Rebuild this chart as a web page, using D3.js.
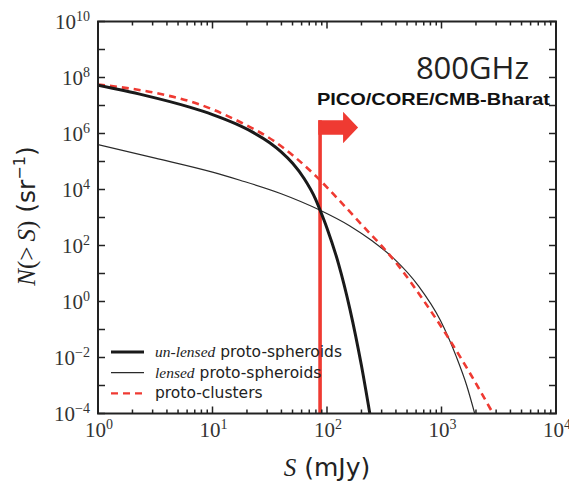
<!DOCTYPE html>
<html><head><meta charset="utf-8">
<script src="https://cdn.jsdelivr.net/npm/d3@7"></script>
<style>body{margin:0;background:#fff}svg{display:block}</style>
</head><body>
<svg id="chart" width="569" height="486"></svg>
<script>
// ---- data (S in mJy, N(>S) in sr^-1) ----
const unlensedS = [1, 2.51, 6.31, 10, 15.85, 22.4, 31.6, 39.8, 50.1, 63.1, 79.4, 87.1, 100, 125.9, 158.5, 199.5, 239.9];
const unlensedN = [5.25e7, 2.34e7, 8.71e6, 4.73e6, 2.24e6, 1.12e6, 4.68e5, 2.21e5, 8.61e4, 2.48e4, 4.57e3, 1.82e3, 417, 22.6, 0.537, 5.37e-3, 7.1e-5];
const lensedS = [1, 3.16, 10, 17.4, 39.8, 87.1, 158.5, 251, 380, 631, 977, 1349, 1660, 1950];
const lensedN = [3.98e5, 1.32e5, 4.17e4, 2.14e4, 7.08e3, 1.82e3, 501, 141, 35.5, 3.55, 0.214, 0.0105, 1e-3, 1e-4];
const clustersS = [1, 3.16, 7.08, 17.4, 33.9, 81.3, 128.8, 237, 288, 437, 708, 1109, 1778, 2818];
const clustersN = [5.62e7, 2.82e7, 1.23e7, 2.57e6, 5.62e5, 2.82e4, 3.98e3, 269, 117, 15.5, 1.0, 0.063, 2.69e-3, 1e-4];
const xTickValues = [1, 10, 100, 1000, 10000];
const xTickExponents = ["0", "1", "2", "3", "4"];
const yTickValues = [1e10, 1e8, 1e6, 1e4, 1e2, 1, 1e-2, 1e-4];
const yTickExponents = ["10", "8", "6", "4", "2", "0", "\u22122", "\u22124"];
const detectionLimit = 87;      // mJy
const flagTopN = 3e6;
const freqLabel = "800GHz";
const experimentLabel = "PICO/CORE/CMB-Bharat";
const legendItems = [
  {it: "un-lensed", rest: " proto-spheroids", key: "unlensed"},
  {it: "lensed", rest: " proto-spheroids", key: "lensed"},
  {it: "", rest: "proto-clusters", key: "clusters"}
];

const RED = "#ef3a32", INK = "#1a1a1a";
const svg = d3.select("#chart");
const L = 98, R = 556, T = 21.5, B = 413.5;
const x = d3.scaleLog().domain([1, 1e4]).range([L, R]);
const y = d3.scaleLog().domain([1e-4, 1e10]).range([B, T]);

const serif = "'Liberation Serif', 'DejaVu Serif', serif";
const sans = "'DejaVu Sans', sans-serif";

const clipId = "plotclip";
svg.append("clipPath").attr("id", clipId).append("rect")
  .attr("x", L).attr("y", T).attr("width", R - L).attr("height", B - T);

const line = d3.line().x(d => x(d[0])).y(d => y(d[1])).curve(d3.curveMonotoneX);
const zip = (a, b) => a.map((v, i) => [v, b[i]]);
const g = svg.append("g").attr("clip-path", `url(#${clipId})`);

// detection limit flag
const fx = x(detectionLimit), fy = y(flagTopN);
g.append("line").attr("x1", fx).attr("x2", fx).attr("y1", fy).attr("y2", B)
  .attr("stroke", RED).attr("stroke-width", 3.6);
svg.append("path")
  .attr("d", `M${fx - 1.8},${fy} L${fx + 23},${fy} L${fx + 23},${fy - 8.5} L${fx + 38},${fy + 7.3} L${fx + 23},${fy + 23} L${fx + 23},${fy + 14.6} L${fx - 1.8},${fy + 14.6} Z`)
  .attr("fill", RED);

g.append("path").datum(zip(lensedS, lensedN)).attr("d", line)
  .attr("fill", "none").attr("stroke", "#2a2a2a").attr("stroke-width", 1.2);
g.append("path").datum(zip(clustersS, clustersN)).attr("d", line)
  .attr("fill", "none").attr("stroke", RED).attr("stroke-width", 2.6).attr("stroke-dasharray", "7,5");
g.append("path").datum(zip(unlensedS, unlensedN)).attr("d", line)
  .attr("fill", "none").attr("stroke", INK).attr("stroke-width", 3);

// frame
svg.append("rect").attr("x", L).attr("y", T).attr("width", R - L).attr("height", B - T)
  .attr("fill", "none").attr("stroke", "#222").attr("stroke-width", 2);

// x ticks (major + minor), bottom and top, inward
const xMinor = [];
for (let d = 0; d < 4; d++) for (let k = 2; k <= 9; k++) xMinor.push(k * Math.pow(10, d));
const tk = svg.append("g").attr("stroke", "#222").attr("stroke-width", 1.5);
xTickValues.forEach(v => {
  tk.append("line").attr("x1", x(v)).attr("x2", x(v)).attr("y1", B).attr("y2", B - 7);
  tk.append("line").attr("x1", x(v)).attr("x2", x(v)).attr("y1", T).attr("y2", T + 7);
});
xMinor.forEach(v => {
  tk.append("line").attr("x1", x(v)).attr("x2", x(v)).attr("y1", B).attr("y2", B - 4);
  tk.append("line").attr("x1", x(v)).attr("x2", x(v)).attr("y1", T).attr("y2", T + 4);
});
// y ticks each decade
d3.range(-4, 11).map(e => Math.pow(10, e)).forEach(v => {
  tk.append("line").attr("x1", L).attr("x2", L + 7).attr("y1", y(v)).attr("y2", y(v));
  tk.append("line").attr("x1", R).attr("x2", R - 7).attr("y1", y(v)).attr("y2", y(v));
});

// tick labels
xTickValues.forEach((v, i) => {
  const t = svg.append("text").attr("x", x(v) + 1).attr("y", 437).attr("text-anchor", "middle")
    .attr("font-family", serif).attr("font-size", 21).attr("fill", "#333");
  t.append("tspan").text("10");
  t.append("tspan").attr("dy", -8).attr("font-size", 14).text(xTickExponents[i]);
});
yTickValues.forEach((v, i) => {
  const t = svg.append("text").attr("x", 90).attr("y", y(v) + 7).attr("text-anchor", "end")
    .attr("font-family", serif).attr("font-size", 21).attr("fill", "#333");
  t.append("tspan").text("10");
  t.append("tspan").attr("dy", -8).attr("font-size", 14).text(yTickExponents[i]);
});

// axis titles
const xt = svg.append("text").attr("x", (L + R) / 2).attr("y", 476).attr("text-anchor", "middle")
  .attr("font-size", 25).attr("fill", "#222");
xt.append("tspan").attr("font-family", serif).attr("font-style", "italic").text("S");
xt.append("tspan").attr("font-family", sans).text(" (mJy)");

const yt = svg.append("text").attr("transform", `translate(35,216) rotate(-90)`)
  .attr("text-anchor", "middle").attr("font-size", 25).attr("fill", "#222");
yt.append("tspan").attr("font-family", serif).attr("font-style", "italic").text("N");
yt.append("tspan").attr("font-family", serif).text("(>\u2009");
yt.append("tspan").attr("font-family", serif).attr("font-style", "italic").text("S");
yt.append("tspan").attr("font-family", serif).text(")");
yt.append("tspan").attr("font-family", sans).text(" (sr");
yt.append("tspan").attr("font-family", sans).attr("font-size", 16).attr("dy", -10).text("\u22121");
yt.append("tspan").attr("font-family", sans).attr("dy", 10).text(")");

// annotations
svg.append("text").attr("x", 529).attr("y", 79).attr("text-anchor", "end")
  .attr("font-family", "'Open Sans', sans-serif").attr("font-size", 31).attr("fill", "#222")
  .text(freqLabel);
svg.append("text").attr("x", 317).attr("y", 105)
  .attr("font-family", "'Liberation Sans', Arial, sans-serif").attr("font-weight", "bold")
  .attr("font-size", 17).attr("fill", "#111")
  .attr("textLength", 233).attr("lengthAdjust", "spacingAndGlyphs").text(experimentLabel);

// legend
const styles = {
  unlensed: {stroke: INK, w: 3, dash: null},
  lensed: {stroke: "#2a2a2a", w: 1.2, dash: null},
  clusters: {stroke: RED, w: 2.4, dash: "7,5"}
};
legendItems.forEach((d, i) => {
  const yy = 352 + i * 20.7;
  const s = styles[d.key];
  svg.append("line").attr("x1", 111).attr("x2", 144).attr("y1", yy).attr("y2", yy)
    .attr("stroke", s.stroke).attr("stroke-width", s.w).attr("stroke-dasharray", s.dash);
  const t = svg.append("text").attr("x", 155).attr("y", yy + 5).attr("font-size", 15.5).attr("fill", "#222");
  if (d.it) t.append("tspan").attr("font-family", serif).attr("font-style", "italic").text(d.it);
  t.append("tspan").attr("font-family", sans).text(d.rest);
});
</script>
</body></html>
